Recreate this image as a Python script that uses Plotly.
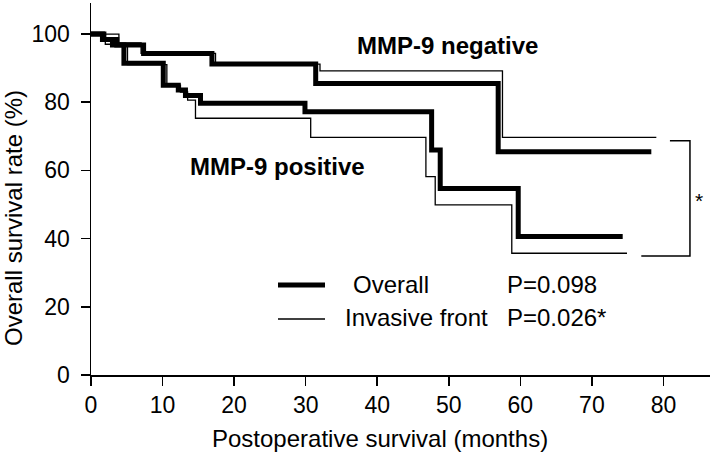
import plotly.graph_objects as go

# ---------------- data (months, survival %) ----------------
neg_overall_t = [0, 1.6, 3.6, 7.35, 16.9, 31.4, 56.9, 78.3]
neg_overall_s = [100, 98.4, 96.8, 94.3, 91.2, 85.5, 65.5, 65.5]

neg_front_t = [0, 3.9, 7.0, 17.4, 32.0, 57.5, 79.0]
neg_front_s = [100, 97.4, 94.3, 91.2, 89.2, 69.7, 69.7]

pos_overall_t = [0, 1.8, 3.0, 4.6, 10.1, 12.2, 13.2, 15.3, 29.9, 47.6, 48.8, 59.7, 74.3]
pos_overall_s = [100, 98.4, 96.8, 91.4, 85.0, 83.6, 82.0, 79.7, 77.2, 66.0, 54.7, 40.6, 40.6]

pos_front_t = [0, 2.0, 5.1, 10.6, 12.5, 13.5, 14.6, 30.7, 46.8, 48.1, 58.8, 74.9]
pos_front_s = [100, 97.0, 91.0, 85.0, 83.0, 80.6, 75.3, 69.7, 58.2, 49.9, 35.7, 35.7]

x_ticks = [0, 10, 20, 30, 40, 50, 60, 70, 80]
y_ticks = [0, 20, 40, 60, 80, 100]

FONT = "Liberation Sans, Arial, Helvetica, sans-serif"
W, H = 711, 454
ML, MR, MT, MB = 91, 1, 3, 79
PW, PH = W - ML - MR, H - MT - MB


def px(x):
    return (x - ML) / PW


def py(y):
    return (H - MB - y) / PH


fig = go.Figure()
for t, s, w in [
    (neg_overall_t, neg_overall_s, 5),
    (pos_overall_t, pos_overall_s, 5),
    (neg_front_t, neg_front_s, 1.3),
    (pos_front_t, pos_front_s, 1.3),
]:
    fig.add_trace(go.Scatter(x=t, y=s, mode="lines", line=dict(color="black", width=w, shape="hv"),
                             showlegend=False, hoverinfo="skip"))

axis_common = dict(showgrid=False, zeroline=False, showline=True, linecolor="black", linewidth=1.5,
                   ticks="outside", ticklen=9, tickwidth=1.5, tickcolor="black",
                   tickfont=dict(family=FONT, size=23, color="black"))

fig.update_xaxes(range=[0, 86.5], tickvals=x_ticks, ticktext=[str(v) for v in x_ticks], **axis_common)
fig.update_yaxes(range=[0, 109.1], tickvals=y_ticks, ticktext=[str(v) for v in y_ticks],
                 ticklabelstandoff=6, **axis_common)

shapes = [
    # legend samples
    dict(type="line", xref="paper", yref="paper", x0=px(278), x1=px(325), y0=py(285), y1=py(285),
         line=dict(color="black", width=5)),
    dict(type="line", xref="paper", yref="paper", x0=px(278), x1=px(325), y0=py(319), y1=py(319),
         line=dict(color="black", width=1.3)),
    # significance bracket
    dict(type="path", xref="x", yref="y",
         path="M 80.9,68.7 L 83.7,68.7 L 83.7,34.9 L 76.9,34.9",
         line=dict(color="black", width=1.5)),
]

def ann(text, x, y, size=23, xanchor="left", **kw):
    return dict(text=text, x=px(x), y=py(y), xref="paper", yref="paper", showarrow=False,
                xanchor=xanchor, yanchor="middle", font=dict(family=FONT, size=size, color="black"), **kw)

annotations = [
    ann("<b>MMP-9 negative</b>", 355, 45, size=24),
    ann("<b>MMP-9 positive</b>", 188, 166, size=24),
    ann("Overall", 351, 284, size=24),
    ann("Invasive front", 343, 317, size=24),
    ann("P=0.098", 505, 284, size=24),
    ann("P=0.026*", 505, 317, size=24),
    ann("*", 699, 200, size=21, xanchor="center"),
    ann("Postoperative survival (months)", 380, 438, size=24, xanchor="center"),
    ann("Overall survival rate (%)", 14, 218, size=24, xanchor="center", textangle=-90),
]

fig.update_layout(width=W, height=H, margin=dict(l=ML, r=MR, t=MT, b=MB),
                  paper_bgcolor="white", plot_bgcolor="white", showlegend=False,
                  shapes=shapes, annotations=annotations)

# remove the default 8px page margin so the figure sits at the window's top-left corner
fig.write_html("out.html", config={"displayModeBar": False, "staticPlot": True},
               post_script="document.body.style.margin='0px';")
